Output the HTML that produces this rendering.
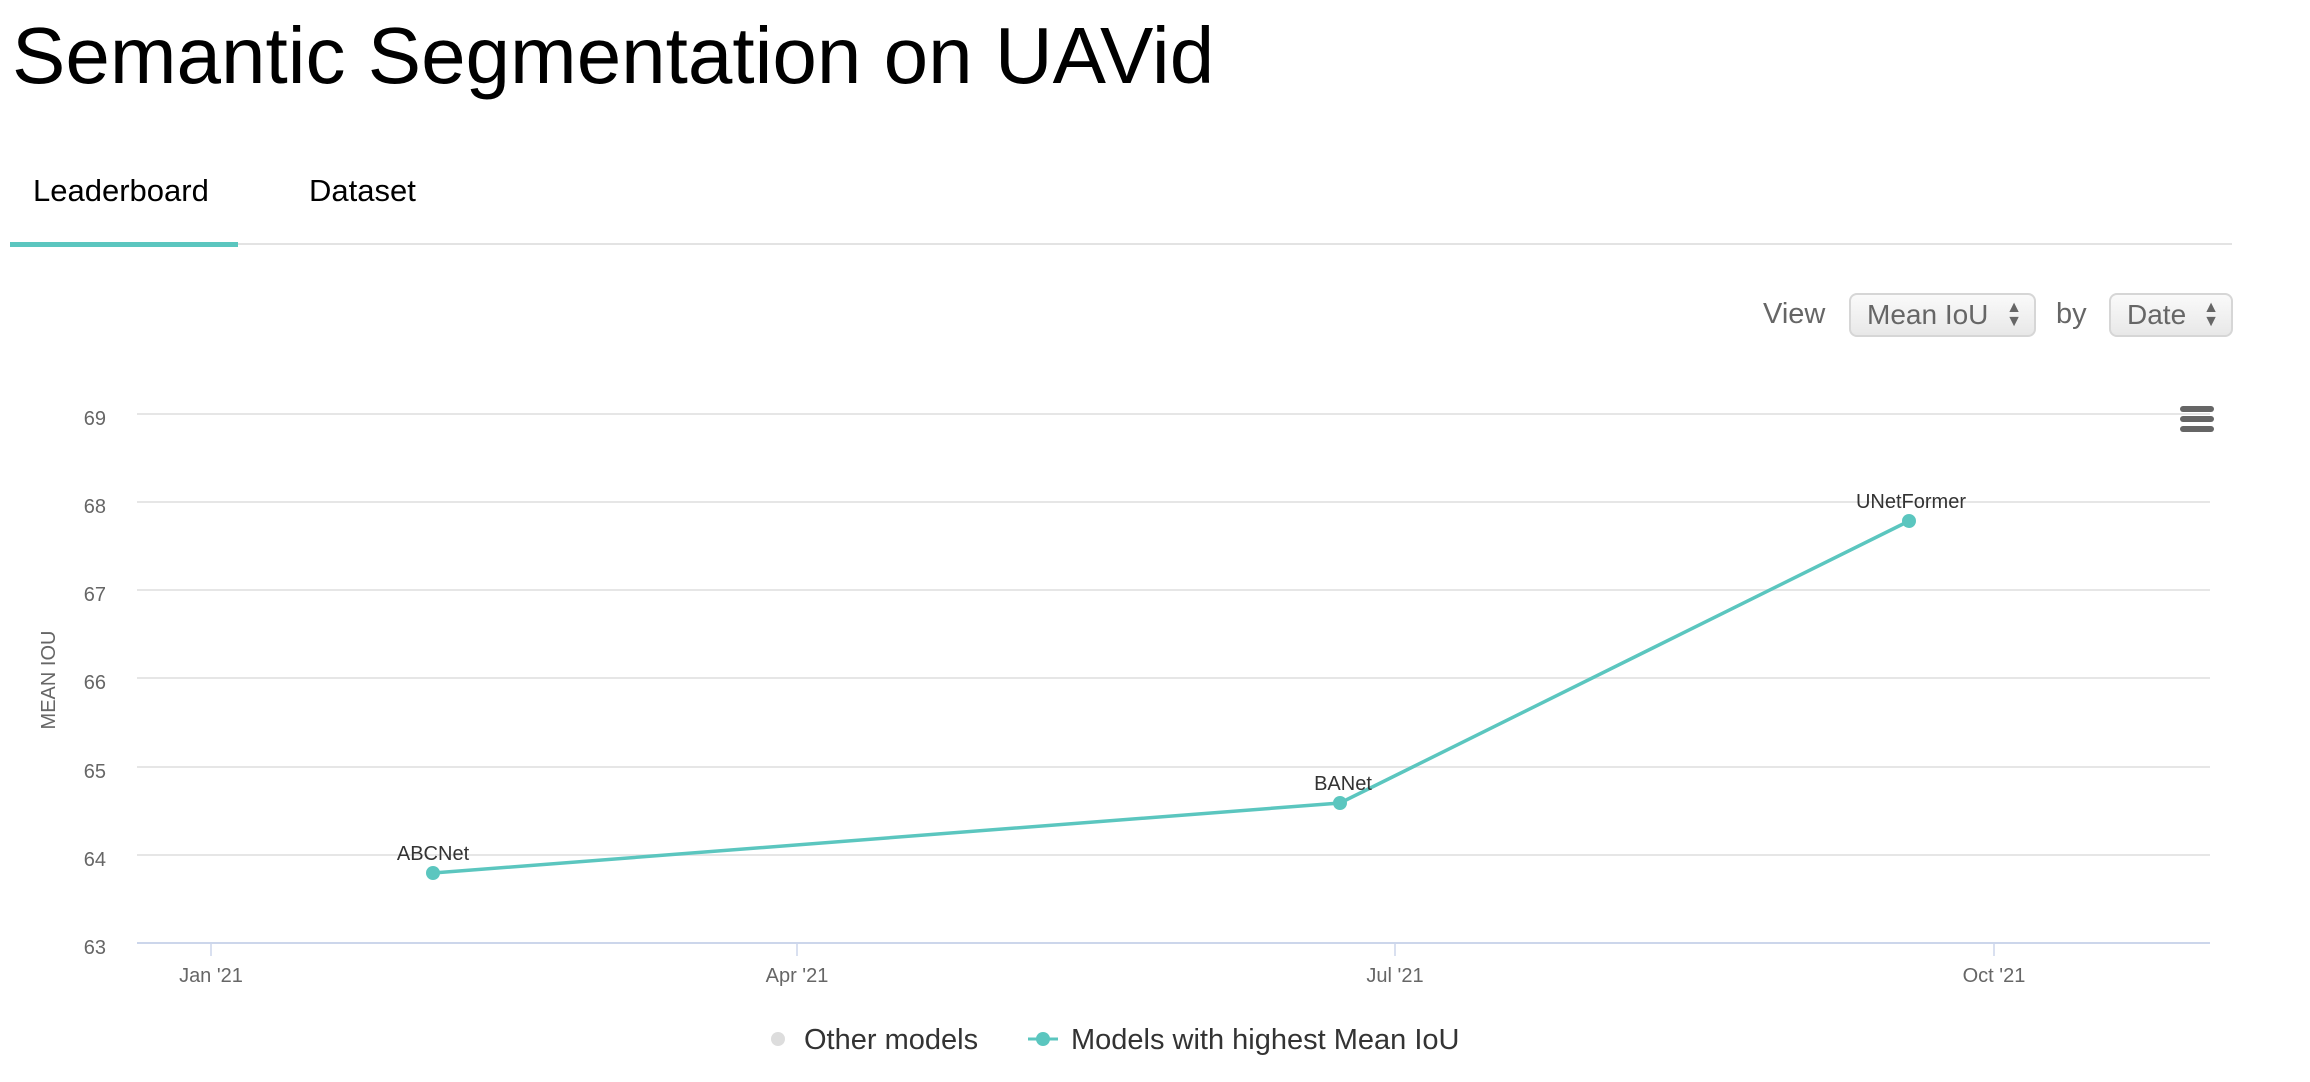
<!DOCTYPE html>
<html><head><style>
body{margin:0;width:2310px;height:1082px;background:#fff;font-family:"Liberation Sans",sans-serif;position:relative;overflow:hidden}
.a{position:absolute;white-space:nowrap}
.sel{position:absolute;border:2px solid #d6d6d6;border-radius:8px;background:linear-gradient(#fafafa,#e8e8e8);color:#666;font-size:28px;box-sizing:border-box;padding:4px 0 0 16px}
</style></head><body>
<div class="a" style="left:12px;top:10px;font-size:80px;color:#000">Semantic Segmentation on UAVid</div>
<div class="a" style="left:33px;top:173px;font-size:31px;color:#000">Leaderboard</div>
<div class="a" style="left:309px;top:173px;font-size:31px;color:#000">Dataset</div>
<div class="a" style="left:10px;top:243px;width:2222px;height:2px;background:#e3e3e3"></div>
<div class="a" style="left:10px;top:242px;width:228px;height:5px;background:#5bc6bf"></div>
<div class="a" style="left:1763px;top:298px;font-size:29px;color:#666">View</div>
<div class="sel" style="left:1849px;top:293px;width:187px;height:44px">Mean IoU<span style="position:absolute;right:12px;top:6px;font-size:16px;line-height:14px">▲<br>▼</span></div>
<div class="a" style="left:2056px;top:298px;font-size:29px;color:#666">by</div>
<div class="sel" style="left:2109px;top:293px;width:124px;height:44px">Date<span style="position:absolute;right:12px;top:6px;font-size:16px;line-height:14px">▲<br>▼</span></div>
<svg class="a" style="left:0;top:0" width="2310" height="1082">
<g stroke="#e6e6e6" stroke-width="2">
<line x1="137" x2="2210" y1="414" y2="414"/><line x1="137" x2="2210" y1="502" y2="502"/>
<line x1="137" x2="2210" y1="590" y2="590"/><line x1="137" x2="2210" y1="678" y2="678"/>
<line x1="137" x2="2210" y1="767" y2="767"/><line x1="137" x2="2210" y1="855" y2="855"/>
</g>
<line x1="137" x2="2210" y1="943" y2="943" stroke="#ccd6eb" stroke-width="2"/>
<g stroke="#ccd6eb" stroke-width="1.5"><line x1="211" x2="211" y1="943" y2="956"/><line x1="797" x2="797" y1="943" y2="956"/><line x1="1395" x2="1395" y1="943" y2="956"/><line x1="1994" x2="1994" y1="943" y2="956"/></g>
<g font-family="Liberation Sans,DejaVu Sans,sans-serif" font-size="20" fill="#666" text-anchor="end">
<text x="106" y="425">69</text><text x="106" y="513">68</text><text x="106" y="601">67</text><text x="106" y="689">66</text><text x="106" y="778">65</text><text x="106" y="866">64</text><text x="106" y="954">63</text>
</g>
<g font-family="Liberation Sans,DejaVu Sans,sans-serif" font-size="20" fill="#666" text-anchor="middle">
<text x="211" y="982">Jan '21</text><text x="797" y="982">Apr '21</text><text x="1395" y="982">Jul '21</text><text x="1994" y="982">Oct '21</text>
</g>
<text transform="translate(55,680) rotate(-90)" text-anchor="middle" font-family="Liberation Sans,sans-serif" font-size="20" fill="#666">MEAN IOU</text>
<polyline points="433,873 1340,803 1909,521" fill="none" stroke="#5bc6bf" stroke-width="3.5"/>
<g fill="#5bc6bf"><circle cx="433" cy="873" r="7"/><circle cx="1340" cy="803" r="7"/><circle cx="1909" cy="521" r="7"/></g>
<g font-family="Liberation Sans,DejaVu Sans,sans-serif" font-size="20" fill="#333" text-anchor="middle">
<text x="433" y="860">ABCNet</text><text x="1343" y="790">BANet</text><text x="1911" y="508">UNetFormer</text>
</g>
<g fill="#666"><rect x="2180" y="406" width="34" height="6" rx="3"/><rect x="2180" y="416" width="34" height="6" rx="3"/><rect x="2180" y="426" width="34" height="6" rx="3"/></g>
<circle cx="778" cy="1039" r="7" fill="#ddd"/>
<text x="804" y="1049" font-family="Liberation Sans,DejaVu Sans,sans-serif" font-size="29" fill="#333">Other models</text>
<line x1="1028" x2="1058" y1="1039" y2="1039" stroke="#5bc6bf" stroke-width="3"/>
<circle cx="1043" cy="1039" r="7" fill="#5bc6bf"/>
<text x="1071" y="1049" font-family="Liberation Sans,DejaVu Sans,sans-serif" font-size="29" fill="#333">Models with highest Mean IoU</text>
</svg>
</body></html>
